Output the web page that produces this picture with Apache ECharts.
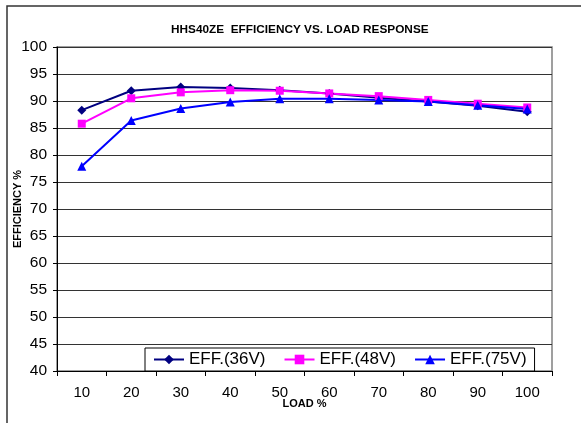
<!DOCTYPE html>
<html>
<head>
<meta charset="utf-8">
<script src="https://cdn.jsdelivr.net/npm/echarts@6/dist/echarts.min.js"></script>
<style>html,body{margin:0;padding:0;background:#fff;}#c{width:581px;height:423px;}</style>
</head>
<body>
<div id="c"></div>
<script>
const loads = ['10','20','30','40','50','60','70','80','90','100'];
const eff36 = [88.3, 91.9, 92.6, 92.4, 92.0, 91.4, 90.6, 89.9, 89.1, 88.0];
const eff48 = [85.8, 90.5, 91.6, 92.0, 91.9, 91.4, 90.9, 90.2, 89.5, 88.8];
const eff75 = [77.9, 86.4, 88.6, 89.8, 90.4, 90.4, 90.2, 89.9, 89.2, 88.5];
const seriesNames = ['EFF.(36V)', 'EFF.(48V)', 'EFF.(75V)'];
const yTicks = { min: 40, max: 100, interval: 5 };

const chart = echarts.init(document.getElementById('c'), null, { renderer: 'canvas' });
const font = 'Arial, "Liberation Sans", sans-serif';
function mk(name, data, color, symbol, size) {
  return {
    name, type: 'line', data, symbol, symbolSize: size,
    lineStyle: { color, width: 2 },
    itemStyle: { color },
    animation: false
  };
}
chart.setOption({
  animation: false,
  graphic: [{
    type: 'rect', shape: { x: 7, y: 6, width: 700, height: 600 },
    style: { fill: 'none', stroke: '#333', lineWidth: 1.5 }, silent: true, z: -1
  }],
  title: {
    text: 'HHS40ZE  EFFICIENCY VS. LOAD RESPONSE',
    left: 166, top: 19,
    textStyle: { fontSize: 11.8, fontWeight: 'bold', fontFamily: font, color: '#000' }
  },
  grid: { left: 57, right: 29, top: 47, bottom: 52, show: true, borderColor: '#808080', borderWidth: 1.5,
          containLabel: false, outerBoundsMode: 'none' },
  legend: {
    data: seriesNames,
    left: 145, top: 348,
    padding: [3, 8, 3, 8],
    itemGap: 18, itemWidth: 30, itemHeight: 12,
    borderColor: '#000', borderWidth: 1, backgroundColor: '#fff',
    textStyle: { fontSize: 17, fontFamily: font, color: '#000' }
  },
  xAxis: {
    type: 'category', data: loads, boundaryGap: true,
    name: 'LOAD %', nameLocation: 'middle', nameGap: 27, nameMoveOverlap: false,
    nameTextStyle: { fontSize: 11, fontWeight: 'bold', fontFamily: font, color: '#000' },
    axisLine: { lineStyle: { color: '#000', width: 1 } },
    axisTick: { show: true, length: 5, lineStyle: { color: '#000' }, alignWithLabel: false },
    axisLabel: { fontSize: 15, fontFamily: font, color: '#000', margin: 14 },
    splitLine: { show: false }
  },
  yAxis: {
    type: 'value', min: yTicks.min, max: yTicks.max, interval: yTicks.interval,
    name: 'EFFICIENCY %', nameLocation: 'middle', nameGap: 34, nameMoveOverlap: false,
    nameTextStyle: { fontSize: 11, fontWeight: 'bold', fontFamily: font, color: '#000' },
    axisLine: { show: true, lineStyle: { color: '#000', width: 1 } },
    axisTick: { show: true, length: 4, lineStyle: { color: '#000' } },
    axisLabel: { fontSize: 15.5, fontFamily: font, color: '#000', margin: 10 },
    splitLine: { lineStyle: { color: '#333', width: 1 } }
  },
  series: [
    mk(seriesNames[0], eff36, '#000080', 'diamond', 9),
    mk(seriesNames[1], eff48, '#FF00FF', 'rect', 8),
    mk(seriesNames[2], eff75, '#0000FF', 'triangle', 9)
  ]
});
</script>
</body>
</html>
